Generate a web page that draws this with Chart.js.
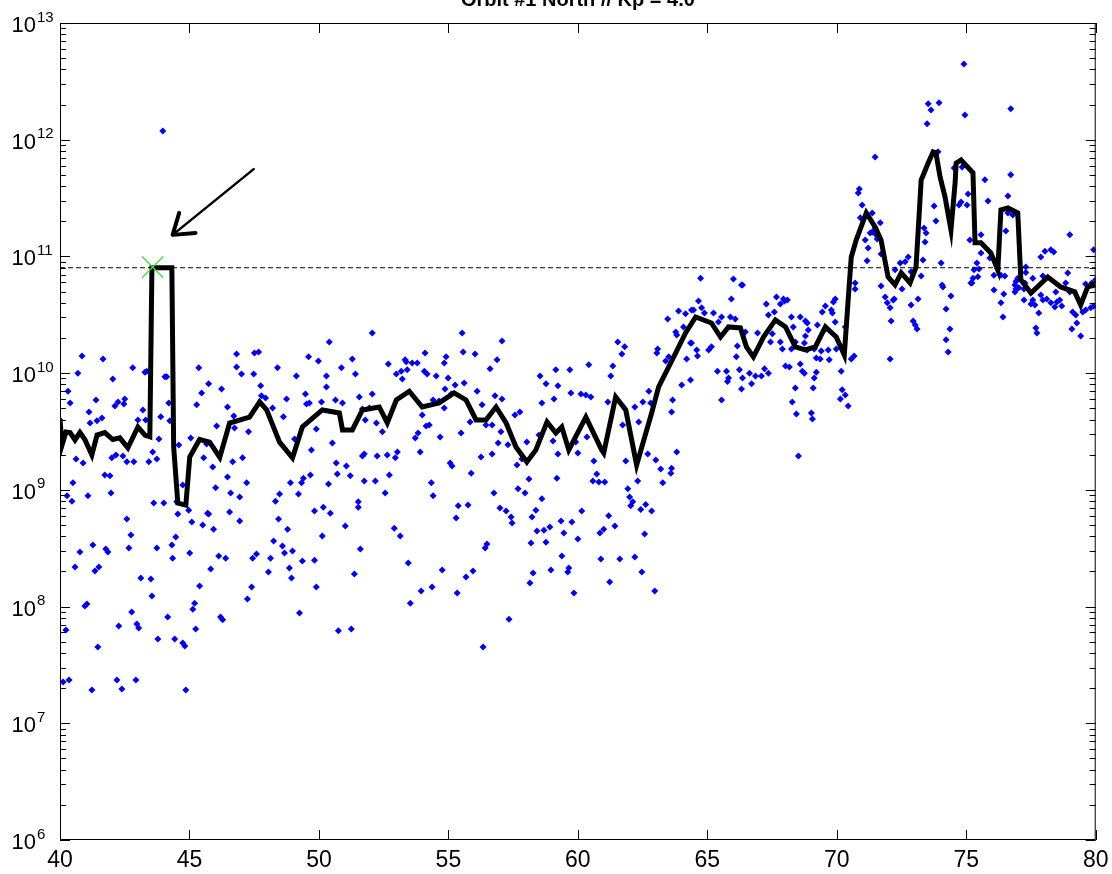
<!DOCTYPE html>
<html>
<head>
<meta charset="utf-8">
<script src="https://cdn.jsdelivr.net/npm/chart.js@4.4.1/dist/chart.umd.min.js"></script>
<style>
  html, body { margin: 0; padding: 0; background: #fff; }
  #wrap { width: 1112px; height: 874px; }
</style>
</head>
<body>
<div id="wrap"><canvas id="canvas" width="1112" height="874"></canvas></div>
<script>
const titleText = 'Orbit #1 North // Kp = 4.0';
const xTickValues = [40, 45, 50, 55, 60, 65, 70, 75, 80];
const yDecades = [6, 7, 8, 9, 10, 11, 12, 13];
const thresholdLevel = 8e10;

// detected peak and the arrow pointing at it
const peakX = [43.58];
const peakY = [8.1e10];
const arrowX = [47.48, 44.35];
const arrowY = [5.6e11, 1.53e11];

// running median (thick black trace)
const lineX = [
  40.00, 40.08, 40.23, 40.39, 40.58, 40.77, 40.96, 41.23, 41.43, 41.73,
  42.04, 42.31, 42.62, 43.01, 43.28, 43.47, 43.55, 44.32, 44.39, 44.55,
  44.86, 45.01, 45.39, 45.78, 46.17, 46.55, 47.32, 47.71, 47.98, 48.48,
  48.98, 49.36, 50.13, 50.79, 50.91, 51.29, 51.68, 52.33, 52.64, 52.99,
  53.49, 53.99, 54.64, 55.22, 55.68, 56.07, 56.45, 56.84, 57.23, 57.61,
  58.03, 58.38, 58.81, 59.15, 59.38, 59.65, 60.31, 60.92, 61.00, 61.46,
  61.85, 62.27, 62.47, 62.85, 63.12, 63.78, 64.16, 64.55, 65.16, 65.51,
  65.82, 66.28, 66.51, 66.78, 67.17, 67.63, 68.02, 68.40, 68.79, 69.17,
  69.56, 69.98, 70.29, 70.44, 70.56, 70.75, 71.14, 71.48, 71.71, 71.98,
  72.25, 72.49, 72.83, 73.06, 73.26, 73.53, 73.72, 73.83, 73.99, 74.18,
  74.41, 74.57, 74.61, 74.80, 75.26, 75.34, 75.57, 75.95, 76.22, 76.34,
  76.61, 76.99, 77.11, 77.50, 78.15, 78.65, 79.19, 79.42, 79.69, 80.00
];
const lineY = [
  4.0e9, 2.43e9, 3.13e9, 3.1e9, 2.68e9, 3.1e9, 2.7e9, 1.99e9, 2.95e9, 3.1e9,
  2.7e9, 2.79e9, 2.29e9, 3.46e9, 2.95e9, 2.85e9, 8.0e10, 8.0e10, 2.33e9, 7.7e8,
  7.4e8, 1.91e9, 2.7e9, 2.56e9, 1.9e9, 3.74e9, 4.2e9, 5.67e9, 4.84e9, 2.56e9,
  1.88e9, 3.46e9, 4.84e9, 4.56e9, 3.26e9, 3.26e9, 4.84e9, 5.13e9, 3.74e9, 5.89e9,
  7.0e9, 5.13e9, 5.56e9, 6.77e9, 5.89e9, 3.97e9, 3.97e9, 5.13e9, 3.74e9, 2.33e9,
  1.73e9, 2.2e9, 3.82e9, 3.07e9, 3.46e9, 2.2e9, 4.2e9, 2.2e9, 2.07e9, 6.25e9,
  4.84e9, 1.63e9, 2.33e9, 4.56e9, 7.62e9, 1.49e10, 2.21e10, 3.03e10, 2.69e10, 2.04e10,
  2.49e10, 2.44e10, 1.68e10, 1.38e10, 2.04e10, 2.86e10, 2.49e10, 1.68e10, 1.58e10, 1.68e10,
  2.49e10, 2.04e10, 1.43e10, 4.24e10, 9.9e10, 1.38e11, 2.36e11, 1.79e11, 1.38e11, 6.67e10,
  5.7e10, 7.22e10, 5.93e10, 8.1e10, 4.52e11, 6.32e11, 7.86e11, 7.7e11, 4.8e11, 3.24e11,
  1.69e11, 4.27e11, 6.3e11, 6.71e11, 5.2e11, 1.31e11, 1.31e11, 1.07e11, 7.66e10, 2.5e11,
  2.6e11, 2.36e11, 6.3e10, 4.86e10, 6.67e10, 5.48e10, 4.97e10, 3.84e10, 5.48e10, 5.7e10
];

// individual measurements (blue dots)
const dotX = [
  40.00, 40.31, 40.39, 40.85, 40.69, 41.66, 41.39, 41.12, 41.16, 41.43,
  41.62, 42.04, 42.12, 42.24, 42.50, 42.47, 42.81, 43.28, 43.35, 43.01,
  43.20, 43.31, 44.05, 44.12, 44.20, 43.89, 44.24, 43.82, 40.62, 40.89,
  41.73, 41.93, 40.50, 41.97, 41.08, 42.00, 42.16, 42.43, 42.58, 42.85,
  43.43, 43.58, 43.74, 42.58, 43.62, 44.01, 44.51, 44.74, 44.59, 45.05,
  45.28, 45.47, 45.74, 46.24, 45.36, 46.82, 46.82, 47.01, 47.51, 47.67,
  47.48, 47.75, 47.78, 47.94, 48.21, 46.47, 46.71, 46.05, 46.74, 47.28,
  45.66, 45.55, 45.90, 46.67, 47.05, 47.21, 46.47, 46.59, 46.94, 46.01,
  45.70, 46.55, 46.94, 45.09, 45.51, 48.40, 48.75, 49.13, 49.48, 49.52,
  49.63, 49.60, 49.98, 50.40, 50.29, 50.29, 50.64, 50.10, 49.90, 48.63,
  49.06, 49.71, 50.52, 50.67, 50.71, 50.37, 49.67, 49.40, 49.33, 48.90,
  48.48, 48.32, 49.21, 49.83, 50.17, 50.44, 48.79, 48.44, 40.27, 40.46,
  42.74, 42.66, 40.77, 41.27, 41.77, 41.85, 40.58, 41.35, 41.50, 43.12,
  43.51, 43.55, 40.96, 41.04, 42.77, 42.27, 42.97, 43.04, 40.23, 41.46,
  44.16, 43.78, 44.43, 44.74, 44.82, 40.12, 40.35, 41.23, 42.20, 42.39,
  42.93, 44.86, 44.55, 44.97, 45.74, 45.93, 44.47, 44.32, 44.35, 43.74,
  45.01, 46.13, 46.40, 45.82, 45.39, 45.20, 45.13, 45.24, 46.20, 46.28,
  47.24, 47.40, 47.44, 47.59, 48.05, 48.13, 48.25, 48.59, 48.67, 48.86,
  48.94, 48.98, 49.36, 49.25, 50.13, 49.83, 49.90, 50.75, 43.97, 52.06,
  50.87, 51.29, 51.41, 52.68, 53.33, 53.18, 53.37, 53.41, 53.60, 53.80,
  53.22, 52.99, 54.10, 54.07, 54.18, 54.53, 54.84, 54.91, 54.99, 55.53,
  55.57, 56.03, 55.26, 55.61, 54.87, 54.41, 54.64, 55.11, 54.84, 50.91,
  51.56, 52.06, 51.68, 51.95, 51.79, 52.22, 52.45, 52.60, 53.99, 54.26,
  54.14, 53.83, 53.72, 53.91, 54.68, 55.49, 51.75, 51.68, 52.25, 52.64,
  52.95, 53.03, 51.06, 51.21, 51.75, 52.18, 52.72, 52.56, 51.52, 51.52,
  55.07, 55.14, 55.88, 54.34, 54.41, 55.38, 55.76, 55.30, 56.26, 56.69,
  55.84, 56.11, 56.30, 56.45, 56.69, 56.80, 57.07, 56.88, 57.07, 56.61,
  57.03, 56.92, 57.30, 57.57, 57.76, 58.03, 57.84, 57.65, 58.11, 57.69,
  57.96, 56.76, 56.99, 57.23, 57.42, 58.23, 58.38, 58.61, 59.19, 58.50,
  59.04, 59.23, 59.92, 60.00, 60.62, 60.73, 60.58, 60.81, 61.04, 60.35,
  60.42, 58.54, 58.77, 59.23, 59.15, 59.69, 59.73, 59.08, 58.61, 60.12,
  60.31, 60.50, 61.16, 61.27, 61.35, 61.54, 61.81, 61.70, 61.73, 61.85,
  62.20, 62.35, 62.51, 62.74, 62.81, 61.93, 62.00, 62.12, 62.04, 62.43,
  62.62, 62.85, 62.31, 62.70, 63.01, 63.20, 63.59, 63.28, 63.62, 63.82,
  63.62, 63.66, 63.05, 63.08, 63.39, 63.51, 63.47, 63.89, 64.16, 63.78,
  63.82, 64.08, 64.35, 64.20, 64.01, 64.35, 64.47, 64.59, 51.02, 52.91,
  53.14, 51.60, 51.37, 53.45, 53.53, 53.95, 54.37, 54.76, 55.34, 55.68,
  55.95, 51.25, 56.34, 57.34, 56.42, 56.49, 57.46, 58.42, 58.69, 58.92,
  58.19, 58.77, 59.35, 59.46, 59.77, 60.15, 60.00, 59.38, 58.27, 58.15,
  58.96, 59.65, 59.61, 59.85, 60.85, 61.00, 61.19, 61.43, 60.89, 61.62,
  62.20, 62.47, 61.23, 62.97, 62.58, 64.66, 64.39, 64.78, 64.89, 65.24,
  65.55, 65.43, 65.89, 65.93, 66.08, 66.32, 67.28, 67.67, 67.82, 67.98,
  68.09, 67.36, 67.59, 68.25, 68.59, 68.79, 68.86, 68.32, 68.79, 68.90,
  69.25, 69.44, 69.56, 69.79, 69.87, 69.83, 69.94, 69.52, 70.33, 70.71,
  70.71, 64.39, 64.62, 65.05, 65.16, 66.12, 66.16, 66.47, 66.94, 67.51,
  67.44, 67.82, 67.90, 68.25, 68.40, 68.75, 68.86, 69.13, 69.40, 69.67,
  69.98, 69.21, 69.36, 69.71, 70.56, 70.67, 65.39, 65.74, 65.82, 65.78,
  66.24, 66.36, 66.32, 66.63, 66.86, 66.71, 67.09, 67.21, 67.36, 65.55,
  68.02, 68.17, 68.59, 68.67, 68.75, 68.40, 68.28, 68.44, 69.02, 69.06,
  69.13, 69.09, 69.21, 70.17, 70.21, 70.33, 70.14, 70.44, 68.52, 71.71,
  71.87, 72.06, 71.95, 72.18, 72.10, 72.06, 72.87, 72.95, 73.03, 73.14,
  73.10, 74.22, 74.30, 74.37, 74.22, 74.10, 74.41, 75.18, 76.07, 76.34,
  76.42, 76.45, 76.88, 76.92, 77.23, 77.50, 77.57, 77.65, 77.88, 77.80,
  77.69, 77.73, 77.96, 78.27, 78.50, 78.61, 78.42, 78.69, 78.46, 78.84,
  79.11, 79.23, 79.27, 79.08, 79.42, 79.50, 79.61, 79.81, 79.92, 79.61,
  79.85, 64.74, 66.01, 66.36, 67.94, 69.94, 70.83, 70.87, 70.98, 70.91,
  71.37, 71.48, 71.29, 71.21, 71.17, 71.10, 71.37, 71.52, 71.56, 71.68,
  71.48, 71.71, 72.22, 72.25, 72.45, 72.64, 72.76, 72.52, 72.87, 73.26,
  73.33, 73.41, 73.45, 73.37, 73.49, 73.53, 73.64, 73.95, 73.76, 73.83,
  73.91, 74.03, 74.07, 74.53, 74.84, 74.72, 74.80, 75.03, 75.07, 75.14,
  74.91, 74.95, 75.41, 75.49, 75.45, 75.30, 75.26, 75.22, 75.57, 75.57,
  75.72, 75.84, 75.91, 76.07, 76.22, 76.34, 76.49, 76.53, 76.61, 76.61,
  76.72, 76.72, 76.80, 77.30, 77.30, 77.27, 77.57, 77.23, 76.99, 76.92,
  76.88, 77.03, 77.88, 78.04, 78.27, 78.38, 77.96, 78.11, 78.92, 79.00,
  79.00, 79.92, 80.00
];
const dotY = [
  3.97e9, 7.0e9, 5.56e9, 1.40e10, 1.0e10, 1.32e10, 5.9e9, 4.65e9, 3.74e9, 3.9e9,
  4.13e9, 8.9e9, 5.24e9, 5.67e9, 6.0e9, 5.45e9, 1.11e10, 1.02e10, 1.04e10, 3.97e9,
  4.84e9, 3.97e9, 9.3e9, 9.3e9, 5.56e9, 4.22e9, 3.9e9, 2.73e9, 1.84e9, 1.70e9,
  1.34e9, 1.32e9, 1.15e9, 9.4e8, 8.9e8, 1.88e9, 1.99e9, 1.95e9, 1.74e9, 1.74e9,
  1.74e9, 2.11e9, 1.84e9, 5.64e8, 7.7e8, 7.7e8, 7.9e8, 1.10e9, 2.42e9, 2.78e9,
  5.35e9, 6.77e9, 8.1e9, 7.3e9, 1.11e10, 1.13e10, 1.46e10, 9.85e9, 1.49e10, 1.52e10,
  9.85e9, 7.8e9, 6.4e9, 6.13e9, 5.03e9, 5.14e9, 4.3e9, 3.53e9, 3.39e9, 3.14e9,
  2.47e9, 1.88e9, 1.57e9, 1.74e9, 1.88e9, 1.15e9, 1.29e9, 9.4e8, 8.7e8, 1.04e9,
  6.3e8, 6.46e8, 5.42e8, 5.3e8, 5.0e8, 1.11e10, 6.0e9, 9.45e9, 6.64e9, 5.45e9,
  5.56e9, 1.38e10, 1.27e10, 1.85e10, 9.45e9, 7.6e9, 5.9e9, 5.67e9, 3.33e9, 4.22e9,
  2.73e9, 2.2e9, 2.52e9, 1.70e9, 1.37e9, 1.12e9, 1.34e9, 1.26e9, 1.15e9, 1.15e9,
  9.2e8, 8.0e8, 9.2e8, 6.6e8, 7.1e8, 6.3e8, 4.6e8, 5.64e8, 8.9e8, 8.0e8,
  4.1e8, 3.18e8, 2.94e8, 3.37e8, 3.11e8, 2.94e8, 2.18e8, 2.02e8, 2.18e8, 1.76e8,
  1.72e8, 1.23e8, 1.01e8, 1.05e8, 9.0e7, 6.8e7, 7.1e7, 6.56e7, 6.3e7, 4.5e7,
  8.15e7, 5.28e7, 5.28e7, 4.88e7, 4.6e7, 2.26e7, 2.35e7, 1.93e7, 2.35e7, 1.97e7,
  2.35e7, 1.93e7, 6.2e8, 6.7e8, 6.2e8, 4.6e8, 3.94e8, 3.37e8, 2.6e8, 3.18e8,
  2.88e8, 2.71e8, 2.6e8, 2.1e8, 1.5e8, 1.07e8, 9.5e7, 6.44e7, 8.15e7, 7.7e7,
  1.16e8, 1.47e8, 2.6e8, 2.82e8, 1.98e8, 2.6e8, 3.65e8, 3.3e8, 2.88e8, 2.14e8,
  1.76e8, 3.0e8, 2.46e8, 8.8e7, 4.03e8, 2.5e8, 1.47e8, 6.2e7, 1.19e12, 2.21e10,
  1.11e10, 1.32e10, 9.85e9, 1.2e10, 1.30e10, 1.04e10, 1.25e10, 1.07e10, 1.22e10, 1.22e10,
  8.9e9, 9.85e9, 1.49e10, 1.04e10, 9.85e9, 9.45e9, 1.22e10, 1.38e10, 9.1e9, 2.21e10,
  1.52e10, 1.46e10, 7.9e9, 8.25e9, 7.3e9, 5.9e9, 5.78e9, 6.64e9, 5.03e9, 5.56e9,
  6.24e9, 6.64e9, 4.94e9, 5.03e9, 3.97e9, 3.74e9, 3.14e9, 4.05e9, 4.38e9, 3.6e9,
  3.53e9, 3.07e9, 2.78e9, 2.11e9, 2.84e9, 3.07e9, 2.03e9, 1.95e9, 1.95e9, 1.99e9,
  1.88e9, 2.11e9, 1.6e9, 1.32e9, 1.19e9, 1.19e9, 1.34e9, 9.4e8, 7.9e8, 7.1e8,
  1.70e9, 1.6e9, 1.39e9, 1.15e9, 8.9e8, 7.3e8, 7.4e8, 5.75e8, 1.91e9, 2.03e9,
  3.82e9, 7.0e9, 5.35e9, 3.6e9, 3.6e9, 6.4e9, 6.0e9, 1.30e10, 1.89e10, 1.09e10,
  3.14e9, 2.52e9, 2.43e9, 4.38e9, 4.65e9, 2.57e9, 1.84e9, 1.63e9, 1.24e9, 1.02e9,
  9.4e8, 9.4e8, 7.0e8, 6.6e8, 5.85e8, 5.85e8, 6.7e8, 8.4e8, 1.26e9, 2.95e9,
  2.62e9, 2.03e9, 2.57e9, 2.07e9, 1.77e9, 1.37e9, 1.19e9, 1.17e9, 1.17e9, 2.84e9,
  1.18e10, 9.45e9, 8.1e9, 7.8e9, 1.07e10, 1.07e10, 6.77e9, 6.0e9, 5.56e9, 6.64e9,
  6.5e9, 6.24e9, 5.67e9, 9.45e9, 1.15e10, 1.85e10, 1.68e10, 1.46e10, 3.6e9, 1.77e9,
  5.14e9, 3.82e9, 5.67e9, 7.0e9, 5.56e9, 1.02e9, 8.7e8, 7.9e8, 7.3e8, 6.8e8,
  7.5e8, 6.6e8, 1.19e9, 2.03e9, 1.80e9, 1.51e9, 1.39e9, 1.15e9, 1.53e9, 2.11e9,
  4.65e9, 5.9e9, 1.49e10, 1.61e10, 1.27e10, 1.38e10, 2.91e10, 3.41e10, 3.22e10, 2.25e10,
  2.12e10, 2.49e10, 1.81e10, 1.32e10, 7.9e9, 8.75e9, 3.48e10, 1.58e10, 4.9e8, 4.7e8,
  4.03e8, 3.11e8, 1.9e8, 2.36e8, 1.07e8, 1.36e8, 1.47e8, 2.06e8, 1.31e8, 1.79e8,
  2.02e8, 6.44e7, 4.5e7, 7.8e7, 3.18e8, 3.44e8, 5.2e8, 4.45e8, 4.5e8, 4.8e8,
  3.51e8, 3.55e8, 5.42e8, 4.27e8, 5.3e8, 6.6e8, 3.8e8, 2.71e8, 1.94e8, 1.59e8,
  2.06e8, 2.14e8, 1.98e8, 1.31e8, 4.27e8, 4.6e8, 6.0e8, 4.9e8, 2.56e8, 2.56e8,
  2.66e8, 1.98e8, 1.62e8, 1.36e8, 4.19e8, 4.16e10, 3.48e10, 3.63e10, 3.28e10, 3.28e10,
  3.03e10, 2.74e10, 3.03e10, 4.32e10, 2.91e10, 5.7e10, 3.92e10, 4.5e10, 3.92e10, 4.16e10,
  4.24e10, 3.15e10, 3.34e10, 3.03e10, 3.03e10, 2.8e10, 2.69e10, 2.49e10, 2.08e10, 2.34e10,
  2.59e10, 3.34e10, 3.76e10, 3.48e10, 4.07e10, 3.28e10, 2.74e10, 2.34e10, 2.49e10, 5.93e10,
  5.27e10, 1.81e10, 1.40e10, 1.58e10, 1.68e10, 1.38e10, 1.71e10, 2.25e10, 2.21e10, 2.17e10,
  1.85e10, 1.85e10, 1.61e10, 1.61e10, 1.85e10, 1.81e10, 1.58e10, 1.61e10, 1.55e10, 1.58e10,
  1.61e10, 1.35e10, 1.32e10, 1.30e10, 1.32e10, 1.40e10, 1.04e10, 1.04e10, 9.1e9, 8.5e9,
  1.07e10, 9.1e9, 7.3e9, 1.0e10, 9.45e9, 8.1e9, 9.45e9, 1.09e10, 1.0e10, 5.9e9,
  1.15e10, 1.13e10, 1.2e10, 1.04e10, 1.0e10, 7.45e9, 5.67e9, 4.47e9, 4.56e9, 4.05e9,
  9.1e9, 7.45e9, 1.02e10, 1.04e10, 7.2e9, 6.5e9, 6.0e9, 5.24e9, 1.95e9, 5.58e10,
  4.5e10, 3.63e10, 4.0e10, 4.24e10, 2.8e10, 1.32e10, 3.84e10, 2.8e10, 2.59e10, 4.32e10,
  2.39e10, 1.93e10, 1.52e10, 2.39e10, 3.55e10, 5.48e10, 4.59e10, 5.93e10, 5.16e10, 4.0e10,
  3.03e10, 4.77e10, 5.7e10, 5.27e10, 4.24e10, 3.92e10, 4.24e10, 3.84e10, 4.68e10, 3.28e10,
  2.44e10, 2.21e10, 4.24e10, 4.0e10, 4.07e10, 4.24e10, 3.69e10, 3.76e10, 4.96e10, 5.93e10,
  3.34e10, 3.15e10, 2.69e10, 2.39e10, 2.08e10, 3.34e10, 3.48e10, 3.63e10, 3.76e10, 5.8e10,
  5.93e10, 6.5e10, 6.4e10, 5.7e10, 4.32e10, 4.32e10, 3.5e11, 3.79e11, 2.76e11, 2.14e11,
  2.36e11, 7.1e11, 1.59e11, 1.18e11, 9.2e10, 1.38e11, 1.62e11, 1.53e11, 1.41e11, 1.94e11,
  1.75e11, 1.05e11, 4.32e10, 7.7e10, 8.8e10, 9.0e10, 9.9e10, 5.27e10, 7.4e10, 6.8e10,
  9.3e10, 1.33e11, 1.59e11, 1.75e11, 1.37e12, 2.03e12, 1.8e12, 2.07e12, 2.71e11, 2.01e11,
  7.87e11, 8.8e10, 5.7e10, 5.73e11, 5.85e11, 2.76e11, 2.93e11, 2.76e11, 3.43e11, 1.38e11,
  4.46e12, 1.63e12, 8.8e10, 7.8e10, 6.7e10, 7.7e10, 6.5e10, 5.93e10, 1.07e11, 1.53e11,
  4.53e11, 2.99e11, 9.7e10, 6.9e10, 7.9e10, 6.9e10, 6.8e10, 1.65e11, 3.3e11, 2.36e11,
  1.84e12, 5.0e11, 2.27e11, 8.1e10, 7.3e10, 5.93e10, 6.5e10, 5.27e10, 6.5e10, 6.1e10,
  4.96e10, 5.4e10, 9.9e10, 1.11e11, 1.14e11, 1.09e11, 6.8e10, 4.32e10, 7.2e10, 1.53e11,
  4.96e10, 1.14e11, 6.3e10
];

const FONT = '"Liberation Sans", Arial, Helvetica, sans-serif';

function toPoints(xs, ys) {
  return xs.map((x, i) => ({ x: x, y: ys[i] }));
}

function label(ctx, text, x, y, size, align, weight) {
  ctx.save();
  ctx.font = (weight || 'normal') + ' ' + size + 'px ' + FONT;
  ctx.textAlign = align;
  ctx.textBaseline = 'alphabetic';
  ctx.fillStyle = '#000';
  ctx.fillText(text, x, y);
  ctx.restore();
}

// box, inward ticks, decade labels and title
const axesPlugin = {
  id: 'matlabAxes',
  afterDraw(chart) {
    const { ctx, chartArea: a } = chart;
    const xs = chart.scales.x, ys = chart.scales.y;
    ctx.save();
    ctx.strokeStyle = '#000';
    ctx.lineWidth = 1;
    ctx.strokeRect(a.left + 0.5, a.top + 0.5, a.right - a.left - 1, a.bottom - a.top - 1);

    ctx.beginPath();
    xTickValues.forEach(v => {
      const px = Math.round(xs.getPixelForValue(v)) + 0.5;
      ctx.moveTo(px, a.bottom); ctx.lineTo(px, a.bottom - 10);
      ctx.moveTo(px, a.top); ctx.lineTo(px, a.top + 10);
    });
    yDecades.forEach(e => {
      const last = e === yDecades[yDecades.length - 1] ? 1 : 9;
      for (let m = 1; m <= last; m++) {
        const py = Math.round(ys.getPixelForValue(m * Math.pow(10, e))) + 0.5;
        const len = m === 1 ? 10 : 6;
        ctx.moveTo(a.left, py); ctx.lineTo(a.left + len, py);
        ctx.moveTo(a.right, py); ctx.lineTo(a.right - len, py);
      }
    });
    ctx.stroke();

    xTickValues.forEach(v => {
      label(ctx, String(v), xs.getPixelForValue(v), a.bottom + 27, 23, 'center');
    });
    yDecades.forEach(e => {
      const py = ys.getPixelForValue(Math.pow(10, e));
      label(ctx, '10', a.left - 24, py + 9, 22, 'right');
      label(ctx, String(e), a.left - 23, py - 1.5, 15, 'left');
    });

    label(ctx, titleText, (a.left + a.right) / 2, 6, 20, 'center', 'bold');
    ctx.restore();
  }
};

// annotation arrow pointing at the peak
const arrowPlugin = {
  id: 'peakArrow',
  afterDatasetsDraw(chart) {
    const { ctx } = chart;
    const xs = chart.scales.x, ys = chart.scales.y;
    const x0 = xs.getPixelForValue(arrowX[0]), y0 = ys.getPixelForValue(arrowY[0]);
    const x1 = xs.getPixelForValue(arrowX[1]), y1 = ys.getPixelForValue(arrowY[1]);
    const ang = Math.atan2(y0 - y1, x0 - x1);
    const head = 23, spread = 0.6;
    ctx.save();
    ctx.strokeStyle = '#000';
    ctx.lineCap = 'round';
    ctx.lineJoin = 'round';
    ctx.lineWidth = 2.5;
    ctx.beginPath();
    ctx.moveTo(x0, y0); ctx.lineTo(x1, y1);
    ctx.stroke();
    ctx.lineWidth = 4;
    ctx.beginPath();
    ctx.moveTo(x1 + head * Math.cos(ang - spread), y1 + head * Math.sin(ang - spread));
    ctx.lineTo(x1, y1);
    ctx.lineTo(x1 + head * Math.cos(ang + spread), y1 + head * Math.sin(ang + spread));
    ctx.stroke();
    ctx.restore();
  }
};

new Chart(document.getElementById('canvas'), {
  type: 'scatter',
  data: {
    datasets: [
      {
        label: 'peak',
        data: toPoints(peakX, peakY),
        pointStyle: 'crossRot',
        pointRadius: 15,
        borderColor: '#3ee23e',
        borderWidth: 1.3,
        backgroundColor: 'transparent'
      },
      {
        label: 'median',
        data: toPoints(lineX, lineY),
        showLine: true,
        borderColor: '#000',
        borderWidth: 5,
        pointRadius: 0,
        tension: 0
      },
      {
        label: 'threshold',
        data: toPoints([40, 80], [thresholdLevel, thresholdLevel]),
        showLine: true,
        borderColor: '#000',
        borderWidth: 1,
        borderDash: [5, 3],
        pointRadius: 0
      },
      {
        label: 'samples',
        data: toPoints(dotX, dotY),
        pointStyle: 'rectRot',
        pointRadius: 3.5,
        backgroundColor: '#0000ff',
        borderWidth: 0
      }
    ]
  },
  options: {
    responsive: false,
    animation: false,
    events: [],
    layout: { padding: { left: 60, right: 14, top: 23, bottom: 34 } },
    plugins: {
      legend: { display: false },
      tooltip: { enabled: false }
    },
    scales: {
      x: { type: 'linear', min: 40, max: 80, display: false },
      y: { type: 'logarithmic', min: 1e6, max: 1e13, display: false }
    }
  },
  plugins: [arrowPlugin, axesPlugin]
});
</script>
</body>
</html>
